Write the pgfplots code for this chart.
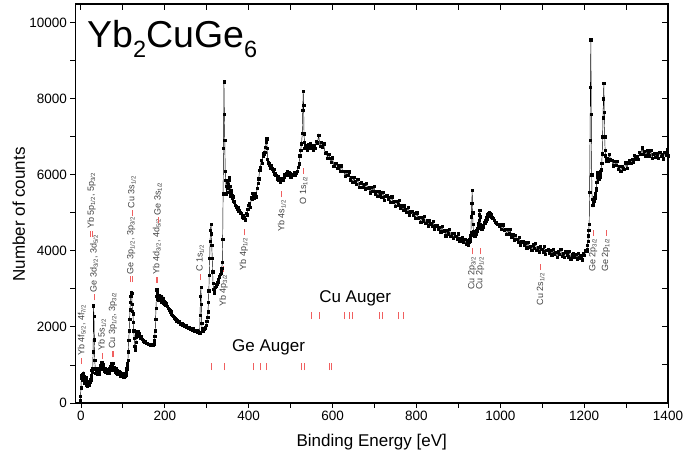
\documentclass[border=0pt]{standalone}
\usepackage{pgfplots}
\pgfplotsset{compat=1.18}
\usepackage{fontspec}
\setmainfont{Liberation Sans}
\definecolor{tkred}{RGB}{240,95,95}
\newcommand{\tk}[2]{\draw[tkred,line width=0.7pt] (axis cs:#1,#2) -- ++(0pt,6pt);}
\newcommand{\lab}[3]{\node[rotate=90,anchor=west,inner sep=0pt,text=black!75,font=\fontsize{9}{10}\selectfont] at ([yshift=8pt]axis cs:#1,#2) {#3};}
\newcommand{\labb}[3]{\node[rotate=90,anchor=east,inner sep=0pt,text=black!75,font=\fontsize{9}{10}\selectfont] at ([yshift=-2.5pt]axis cs:#1,#2) {#3};}
\newcommand{\tsub}[1]{\raisebox{-10pt}{\fontsize{23.5}{24}\selectfont #1}}
\begin{document}
\begin{tikzpicture}
\begin{axis}[name=main,
    scale only axis, width=592.5pt, height=399pt,
    xmin=-13, xmax=1400, ymin=0, ymax=10490,
    xtick={0,200,...,1400}, minor xtick={100,300,...,1300},
    ytick={0,2000,...,10000}, minor ytick={1000,3000,...,9000},
    major tick length=5pt, minor tick length=5pt,
    tick align=outside, xtick pos=left, ytick pos=left,
    axis line style={line width=1.1pt},
    every tick/.style={black,line width=0.9pt},
    scaled ticks=false,
    /pgf/number format/1000 sep={},
    /pgf/number format/assume math mode=true,
    ticklabel style={font=\fontsize{13.5}{15}\selectfont},
    clip=false]
\addplot[black, line width=0.45pt, mark=square*, mark size=1.15pt, mark options={solid,fill=black}] coordinates {
(-2,60)(-1,170)(0,400)(1,650)(2,720)(3,600)(4,760)(5,690)(6,780)(7,640)(8,700)(9,520)(10,610)(11,580)(12,670)(13,600)(14,480)(15,440)(16,520)(17,470)(18,560)(19,500)(20,470)(21,560)(22,620)(23,600)(24,690)(25,720)(26,860)(27,800)(28,900)(29,1350)(30,2560)(31,2280)(32,1660)(33,1130)(34,900)(35,780)
(36,830)(37,820)(38,760)(39,900)(40,850)(41,800)(42,880)(43,760)(44,830)(45,900)(46,950)(47,980)(48,1040)(49,1080)(50,1060)(51,990)(52,1020)(53,940)(54,880)(55,900)(56,850)(57,920)(58,830)(59,800)(60,880)(61,820)(62,780)(63,860)(64,800)(65,840)(66,780)(67,900)(68,820)(69,860)(70,910)(71,950)(72,1000)(73,1050)(74,1020)(75,980)(76,1040)(77,900)(78,860)(79,930)(80,880)(81,820)(82,860)(83,900)(84,780)(85,840)(86,870)(87,800)(88,760)(89,820)(90,780)(91,840)(92,760)(93,800)(94,720)(95,790)(96,740)(97,700)(98,780)(99,720)(100,690)(101,760)(102,700)(103,740)(104,690)(105,720)(106,780)(107,740)(108,820)(109,900)(110,960)(111,1050)
(112,1130)(113,1350)(114,1650)(115,1900)(116,2200)(117,2450)(118,2650)(119,2800)(120,2920)(121,2880)(122,2600)(123,2420)(124,2350)(125,2130)(126,1900)(127,1700)(128,1500)(129,1400)(130,1450)(131,1600)(132,1720)(133,1800)(134,1850)(135,1880)(136,1860)(137,1870)(138,1820)(139,1780)(140,1760)
(142,1700)(144,1750)(146,1680)(148,1650)(150,1620)(152,1610)(154,1590)(156,1570)(158,1580)(160,1550)(162,1540)(164,1550)(166,1520)(168,1520)(170,1510)(172,1530)(174,1560)(175,1640)(176,1750)(177,1900)(178,2200)(179,2500)(180,2800)(181,2980)(182,2900)(183,2720)(184,2780)(185,2700)(186,2820)(187,2760)(188,2700)(189,2800)(190,2740)(191,2660)(192,2800)(193,2720)(194,2650)(195,2700)(196,2760)(197,2620)(198,2680)(199,2600)
(200,2650)(202,2580)(204,2620)(206,2540)(208,2500)(210,2470)(212,2430)(214,2400)(216,2330)(218,2310)(220,2290)(222,2240)(224,2230)(226,2200)(228,2160)(230,2180)(232,2130)(234,2140)(236,2100)(238,2070)(240,2090)(242,2050)(244,2060)(246,2030)(248,2010)(250,2040)(252,1990)(254,2000)(256,1970)(258,1990)(260,1950)(262,1960)(264,1940)(266,1920)(268,1950)(270,1900)(272,1920)(274,1880)(276,1900)(278,1860)(280,1870)(282,1840)
(283,1850)(284,2300)(285,2800)(286,3050)(287,2600)(288,2100)(289,1960)(290,1900)(291,1930)(292,1880)(294,1950)(296,1980)(298,2050)(300,2150)(302,2250)(303,2400)(304,2650)(305,2950)(306,3350)(307,3800)(308,4250)(309,4550)(310,4700)(311,4450)(312,4150)(313,3800)(314,3450)(315,3150)(316,3000)(317,2900)(318,2950)(320,3050)(322,3080)(324,3120)(326,3180)(328,3260)(330,3320)(332,3380)(334,3420)(335,3480)(336,3550)(337,3700)(338,4300)(339,5500)(340,6700)(341,8450)(342,7600)(343,6900)(344,6100)(345,5850)
(346,5700)(347,5500)(348,5800)(349,5650)(350,5680)(351,5550)(352,5750)(353,5940)(354,5850)(355,5700)(356,5600)(357,5450)(358,5590)(359,5500)(360,5380)(361,5460)(362,5420)(364,5300)(366,5290)(368,5200)(370,5160)(372,5100)(374,5150)(376,5050)(378,5070)(380,5000)(382,4980)(384,4900)(386,4940)(388,4850)(390,4890)(392,4820)(394,4980)(396,4950)(398,5100)(400,5200)(402,5250)(404,5150)(406,5400)(408,5350)(410,5510)(412,5450)(414,5380)(416,5500)(418,5420)(420,5650)(422,5770)(424,5900)(426,6115)(428,6200)(430,6380)(432,6300)(434,6500)(436,6550)(438,6600)(440,6730)(442,6850)(443,6950)(444,6700)(445,6400)(446,6335)(448,6300)(450,6250)(452,6180)(454,6250)(456,6160)(458,6100)(460,6150)(462,6030)(464,5980)(466,5985)(468,5900)(470,5950)(472,5850)(474,5855)(476,5800)(478,5900)(480,5850)(482,5855)(484,5950)(486,6000)(488,5980)(490,6030)(492,6080)(494,5990)(496,6050)(498,6030)(500,5950)(502,6020)(504,5990)(506,5985)(508,6060)(510,6000)(512,6075)(514,6050)(516,6100)(518,6200)(520,6290)(522,6500)(524,6640)(526,6820)(528,7100)(529,7690)(530,8200)(531,7820)(532,7080)(533,6860)(534,6700)(536,6780)(538,6730)(540,6650)(542,6800)(544,6720)(546,6820)(548,6690)(550,6760)(552,6730)(554,6650)
(555,6760)(558,6690)(561,6890)(564,6840)(567,7040)(570,6750)(573,6860)(576,6740)(579,6820)(582,6560)(585,6590)(588,6440)(591,6540)(594,6430)(597,6330)(600,6450)(603,6230)(606,6300)(609,6300)(612,6180)(615,6240)(618,6100)(621,6240)(624,6090)(627,6100)(630,5960)(633,6090)(636,5980)(639,6080)(642,5870)(645,5930)(648,5800)(651,5930)(654,5830)(657,5760)(660,5890)(663,5680)(666,5780)(669,5790)(672,5680)(675,5750)(678,5630)(681,5770)(684,5640)(687,5660)(690,5530)(693,5670)(696,5570)(699,5690)(702,5490)(705,5560)(708,5430)(711,5570)(714,5480)(717,5410)(720,5550)(723,5340)(726,5440)(729,5450)(732,5350)(735,5410)(738,5280)(741,5420)(744,5280)(747,5300)(750,5170)(753,5310)(756,5210)(759,5330)(762,5130)(765,5190)(768,5060)(771,5190)(774,5100)(777,5020)(780,5150)(783,4940)(786,5030)(789,5040)(792,4930)(795,4990)(798,4860)(801,5000)(804,4860)(807,4880)(810,4750)(813,4890)(816,4790)(819,4910)(822,4720)(825,4790)(828,4660)(831,4800)(834,4710)(837,4640)(840,4770)(843,4560)(846,4660)(849,4670)(852,4560)(855,4625)(858,4500)(861,4640)(864,4510)(867,4530)(870,4400)(873,4550)(876,4450)(879,4575)(882,4380)(885,4460)(888,4330)(891,4470)(894,4380)(897,4320)(900,4450)(903,4250)(906,4340)(909,4350)(912,4240)(915,4300)(918,4170)(921,4260)(923,4160)(925,4270)
(926,4230)(927,4300)(928,4270)(929,4400)(930,4480)(931,4900)(932,5250)(933,5600)(934,5000)(935,4700)(936,4500)(937,4420)(938,4380)(939,4440)(940,4400)(941,4460)(942,4430)(943,4500)(944,4540)(945,4520)(946,4600)(947,4650)(948,4720)(949,4800)(950,4950)(951,5070)(952,4900)(953,4700)(954,4630)(955,4560)(956,4600)(957,4560)(958,4620)(959,4680)(960,4650)(961,4720)(962,4760)(963,4740)(964,4800)(965,4780)(966,4850)(967,4880)(968,4840)(969,4900)(970,4950)(971,4920)(972,4980)(973,5000)(974,5020)(975,4980)(976,4940)(977,4960)(978,4900)(980,4880)(982,4850)(985,4800)(988,4760)(991,4740)(994,4700)(997,4660)
(1000,4690)(1003,4560)(1006,4690)(1009,4550)(1012,4570)(1015,4430)(1018,4560)(1021,4450)(1024,4560)(1027,4360)(1030,4430)(1033,4290)(1036,4410)(1039,4310)(1042,4230)(1045,4360)(1048,4150)(1051,4240)(1054,4250)(1057,4140)(1060,4210)(1063,4080)(1066,4230)(1069,4090)(1072,4130)(1075,4010)(1078,4160)(1081,4070)(1084,4200)(1087,4020)(1090,4100)(1093,3980)(1096,4120)(1099,4040)(1102,3980)(1105,4120)(1108,3920)(1111,4020)(1114,4040)(1117,3940)(1120,4015)(1123,3900)(1126,4050)(1129,3925)(1132,3960)(1135,3840)(1138,3995)(1141,3910)(1144,4045)(1147,3860)(1150,3945)(1153,3830)(1156,3975)(1159,3900)(1162,3845)(1165,3990)(1168,3795)(1171,3900)(1174,3925)(1177,3830)(1180,3905)(1183,3790)(1186,3945)(1189,3820)(1192,3870)(1195,3770)(1198,3940)(1201,3880)(1204,4010)
(1206,4000)(1207,4050)(1208,4150)(1209,4250)(1210,4400)(1211,4550)(1212,4700)(1213,5550)(1214,6900)(1215,8300)(1216,9550)(1217,7600)(1218,6000)(1219,5350)(1220,5200)(1221,5280)(1222,5200)(1223,5350)(1224,5300)(1225,5400)(1226,5500)(1227,5450)(1228,5600)(1229,5650)(1230,5800)(1231,5950)(1232,6050)(1233,5950)(1234,6000)(1235,5900)(1236,6050)(1237,5950)(1238,6100)(1239,6050)(1240,6150)(1241,6120)(1242,6300)(1243,6550)(1244,7000)(1245,7500)(1246,8000)(1247,8400)(1248,7650)(1249,7000)(1250,6650)(1251,6500)(1252,6350)(1253,6420)
(1254,6440)(1257,6350)(1260,6540)(1263,6400)(1266,6390)(1269,6240)(1272,6360)(1275,6250)(1278,6360)(1281,6150)(1284,6220)(1287,6090)(1290,6230)(1293,6170)(1296,6140)(1299,6320)(1302,6170)(1305,6310)(1308,6370)(1311,6310)(1314,6410)(1317,6330)(1320,6520)(1323,6420)(1326,6490)(1329,6400)(1332,6590)(1335,6540)(1338,6710)(1341,6540)(1344,6620)(1347,6500)(1350,6640)(1353,6560)(1356,6500)(1359,6640)(1362,6440)(1365,6540)(1368,6570)(1371,6470)(1374,6550)(1377,6440)(1380,6600)(1383,6480)(1386,6530)(1389,6420)(1392,6590)(1395,6520)(1398,6670)(1400,6500)
};
% mirrored inward ticks on top and right
\pgfplotsinvokeforeach{0,100,200,300,400,500,600,700,800,900,1000,1100,1200,1300}{\draw[black,line width=1pt] (axis cs:#1,10490) -- ++(0pt,-6pt);}
\pgfplotsinvokeforeach{1000,2000,3000,4000,5000,6000,7000,8000,9000,10000}{\draw[black,line width=1pt] (axis cs:1400,#1) -- ++(-6pt,0pt);}
% peak markers and labels above
\tk{2}{1024}\lab{2}{1024}{Yb 4f\textsubscript{5/2}, 4f\textsubscript{7/2}}
\tk{31}{2700}\lab{31}{2700}{Ge 3d\textsubscript{3/2}, 3d\textsubscript{5/2}}
\tk{23}{4360}\tk{27}{4360}\lab{25}{4360}{Yb 5p\textsubscript{1/2}, 5p\textsubscript{3/2}}
\tk{50.5}{1155}\lab{50.5}{1155}{Yb 5s\textsubscript{1/2}}
\tk{74.5}{1207}\tk{78}{1207}\lab{76}{1207}{Cu 3p\textsubscript{1/2}, 3p\textsubscript{3/2}}
\tk{118}{3175}\tk{121.5}{3175}\lab{120}{3175}{Ge 3p\textsubscript{1/2}, 3p\textsubscript{3/2}}
\tk{121.5}{4910}\lab{121.5}{4910}{Cu 3s\textsubscript{1/2}}
\tk{179.5}{3150}\tk{183}{3150}\lab{181}{3150}{Yb 4d\textsubscript{3/2}, 4d\textsubscript{5/2}}
\tk{184}{4725}\lab{184}{4725}{Ge 3s\textsubscript{1/2}}
\tk{284.5}{3230}\lab{284.5}{3230}{C 1s\textsubscript{1/2}}
% labels below
\tk{340}{3450}\labb{340}{3450}{Yb 4p\textsubscript{3/2}}
\tk{388.5}{4410}\labb{388.5}{4410}{Yb 4p\textsubscript{1/2}}
\tk{479}{5415}\labb{479}{5415}{Yb 4s\textsubscript{1/2}}
\tk{531}{6030}\labb{531}{6030}{O 1s\textsubscript{1/2}}
\tk{933}{3910}\labb{933}{3910}{Cu 2p\textsubscript{3/2}}
\tk{952}{3910}\labb{952}{3910}{Cu 2p\textsubscript{1/2}}
\tk{1096}{3490}\labb{1096}{3490}{Cu 2s\textsubscript{1/2}}
\tk{1221.5}{4400}\labb{1221.5}{4400}{Ge 2p\textsubscript{3/2}}
\tk{1252}{4400}\labb{1252}{4400}{Ge 2p\textsubscript{1/2}}
% Auger
\pgfplotsinvokeforeach{549,568,627,639,647,711,718,758,768}{\draw[tkred,line width=0.7pt] (axis cs:#1,2205) -- ++(0pt,7pt);}
\pgfplotsinvokeforeach{312,341,412,428,443,525.5,533.5,591.5,597}{\draw[tkred,line width=0.7pt] (axis cs:#1,866) -- ++(0pt,7pt);}
\node[font=\fontsize{17}{20}\selectfont] at (axis cs:654,2756) {Cu Auger};
\node[font=\fontsize{17}{20}\selectfont] at (axis cs:447.5,1457) {Ge Auger};
\node[anchor=base west,inner sep=0pt,font=\fontsize{37.5}{40}\selectfont] at (rel axis cs:0.0194,0.892) {Yb\tsub{2}CuGe\tsub{6}};
\end{axis}
\node[anchor=base,font=\fontsize{17}{20}\selectfont] at ([yshift=-44pt]main.south) {Binding Energy [eV]};
\node[rotate=90,anchor=base,font=\fontsize{17}{20}\selectfont] at ([xshift=-50.5pt,yshift=-11pt]main.west) {Number of counts};
\pgfresetboundingbox
\path ([xshift=-75.5pt,yshift=-56pt]main.south west) rectangle ([xshift=15pt,yshift=4pt]main.north east);
\end{tikzpicture}
\end{document}
